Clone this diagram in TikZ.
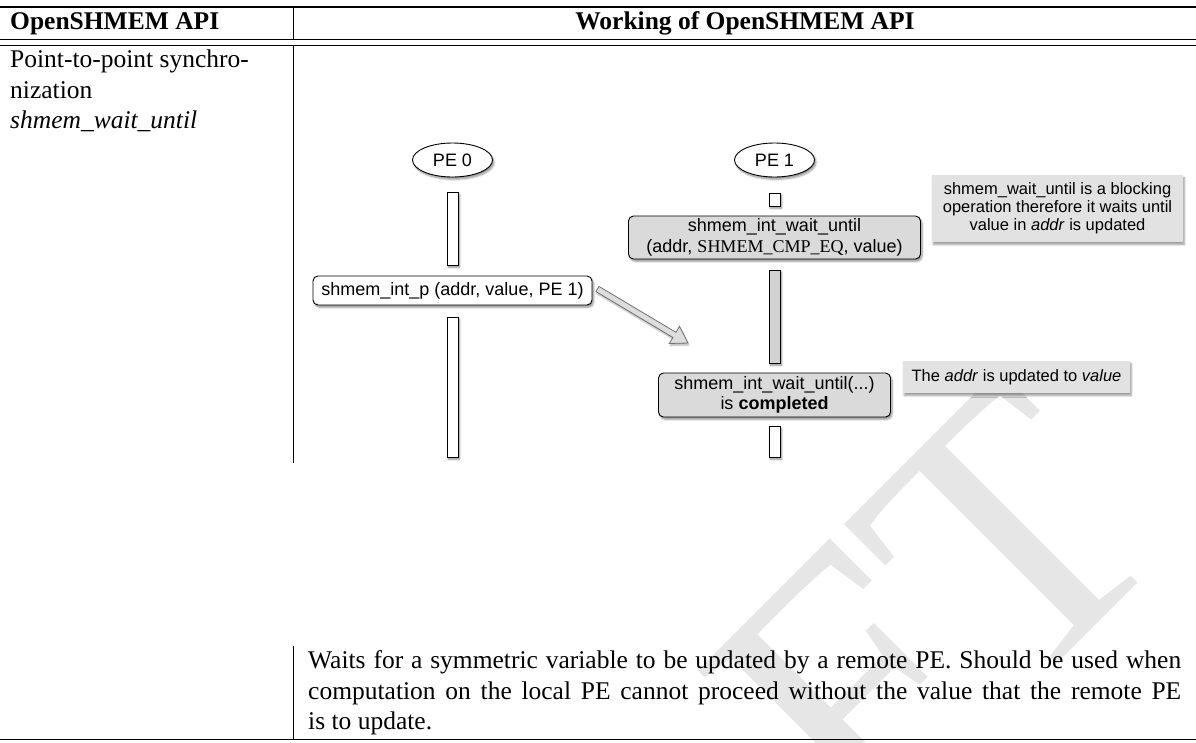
\documentclass[tikz,border=0pt]{standalone}
\usepackage{fontspec}
\setmainfont{Liberation Serif}
\newfontfamily\helv{Liberation Sans}
\usetikzlibrary{shapes.geometric,shadows,shadows.blur,calc}
\definecolor{boxgray}{HTML}{DADADA}
\definecolor{notegray}{HTML}{E2E2E2}
\definecolor{bargray}{HTML}{D2D2D2}
\definecolor{wmgray}{HTML}{E6E6E6}
\definecolor{arrfill}{HTML}{DDDDDD}
\definecolor{arrline}{HTML}{707070}
\begin{document}
\begin{tikzpicture}[x=1pt,y=-1pt,
  tabtext/.style={inner sep=0pt, font=\rmfamily\fontsize{25.5}{30.6}\selectfont},
  rule/.style={line width=1pt, black},
  shad/.style={blur shadow={shadow xshift=1.5pt, shadow yshift=-2.2pt, shadow blur radius=2pt, shadow blur steps=6, shadow opacity=45}},
  lifebar/.style={draw=black, line width=0.9pt, fill=white, minimum width=11pt, inner sep=0pt, shad},
  pe/.style={ellipse, draw=black, line width=0.9pt, fill=white, minimum width=80pt, minimum height=34pt, inner sep=0pt, shad, font=\helv\fontsize{18}{21}\selectfont},
  callbox/.style={rounded corners=5pt, draw=black, line width=0.9pt, inner sep=0pt, shad, align=center, font=\helv\fontsize{18}{21}\selectfont},
  notebox/.style={fill=notegray, inner sep=0pt, align=center, blur shadow={shadow xshift=1.2pt, shadow yshift=-2.5pt, shadow blur radius=2pt, shadow blur steps=6, shadow opacity=40}, font=\helv\fontsize{16.5}{18}\selectfont},
  fatarrow/.style={fill=arrfill, draw=arrline, line width=0.8pt, line join=miter, blur shadow={shadow xshift=0.8pt, shadow yshift=-2pt, shadow blur radius=1.5pt, shadow blur steps=5, shadow opacity=30}},
  wmark/.style={rotate=45, anchor=base east, inner sep=0pt, text=wmgray, font=\rmfamily\fontsize{380}{380}\selectfont}
]
\useasboundingbox (0,0) rectangle (1196,742);
% watermark
\begin{scope}
\clip (0,0) rectangle (1196,742);
\node[wmark] (wm) at (1180,541) {DRAFT};
\end{scope}

% table rules
\coordinate (tl) at (0,7.2);
\coordinate (tr) at (1196,7.2);
\draw[line width=1.6pt] (tl) -- (tr);
\draw[rule] (0,39) -- (1196,39);
\draw[rule] (0,45) -- (1196,45);
\draw[rule] (293,7) -- (293,39);
\draw[rule] (293,45) -- (293,463);
\draw[rule] (293,646) -- (293,739);
\draw[line width=1.2pt] (0,739.6) -- (1196,739.6);

% header
\node[tabtext, anchor=base west, font=\bfseries\fontsize{25.5}{30.6}\selectfont] (h1) at (10,29.4) {OpenSHMEM API};
\node[tabtext, anchor=base, font=\bfseries\fontsize{25.5}{30.6}\selectfont] (h2) at (745,29.4) {Working of OpenSHMEM API};

% left column
\node[tabtext, anchor=base west] (api1) at (10,67.5) {Point-to-point synchro-};
\node[tabtext, anchor=base west] (api2) at (10,98.1) {nization};
\node[tabtext, anchor=base west] (api3) at (10,128.7) {\textit{shmem\_wait\_until}};

% description
\node[tabtext, anchor=base west, text width=873pt, align=justify] (desc) at (308,668.5)
 {\hyphenpenalty=10000 Waits for a symmetric variable to be updated by a remote PE. Should be used when\linebreak computation on the local PE cannot proceed without the value that the remote PE\linebreak is to update.};

% PE 0 lifeline
\node[pe] (pe0) at (452.5,160) {PE 0};
\node[lifebar, minimum height=73pt] (b0a) at (452.5,228.5) {};
\node[callbox, fill=white, minimum width=279pt, minimum height=29pt] (ip) at (452.5,290.5) {shmem\_int\_p (addr, value, PE 1)};
\node[lifebar, minimum height=140pt] (b0b) at (452.5,387) {};

% PE 1 lifeline
\node[pe] (pe1) at (774.5,160) {PE 1};
\node[lifebar, minimum height=13pt] (b1a) at (774.5,199.5) {};
\node[callbox, fill=boxgray, minimum width=292pt, minimum height=43pt] (wu) at (774.5,237.5) {shmem\_int\_wait\_until\\(addr, {\rmfamily SHMEM\_CMP\_EQ}, value)};
\node[lifebar, fill=bargray, minimum height=93pt] (b1b) at (774.5,316.5) {};
\node[callbox, fill=boxgray, minimum width=232pt, minimum height=44pt, font=\helv\fontsize{18}{19.5}\selectfont] (done) at (774.5,395) {shmem\_int\_wait\_until(...)\\is \textbf{completed}};
\node[lifebar, minimum height=31pt] (b1c) at (774.5,441.5) {};

% notes
\node[notebox, minimum width=251pt, minimum height=67pt] (n1) at (1057.5,208.5) {shmem\_wait\_until is a blocking\\operation therefore it waits until\\value in \textit{addr} is updated};
\node[notebox, minimum width=227pt, minimum height=32pt] (n2) at (1016.5,377) {The \textit{addr} is updated to \textit{value}};

% put arrow
\coordinate (arrS) at ($(ip.east)+(5,-1.5)$);
\coordinate (arrE) at (688,343);
\coordinate (arrB) at ($(arrS)!0.85!(arrE)$);
\draw[fatarrow] ($(arrS)!3pt!90:(arrE)$) -- ($(arrB)!3pt!90:(arrE)$) -- ($(arrB)!10pt!90:(arrE)$) -- (arrE) -- ($(arrB)!10pt!-90:(arrE)$) -- ($(arrB)!3pt!-90:(arrE)$) -- ($(arrS)!3pt!-90:(arrE)$) -- cycle;
\end{tikzpicture}
\end{document}
